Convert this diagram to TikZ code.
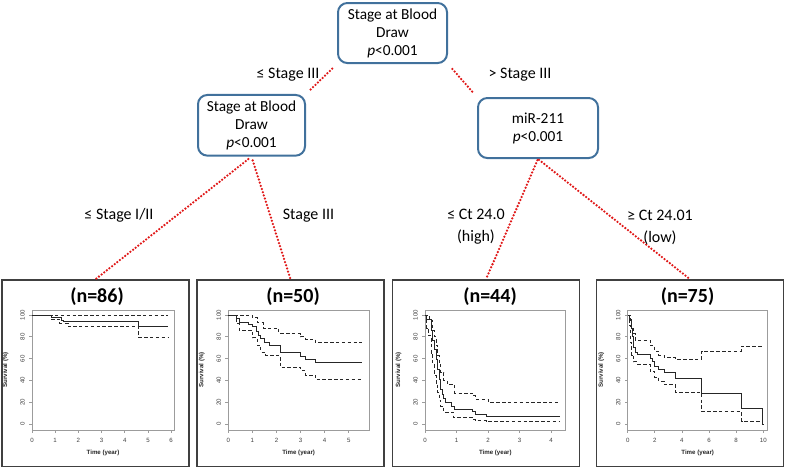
\documentclass[tikz,border=0pt]{standalone}
\usepackage{fontspec}
\setmainfont{Carlito}
\newfontfamily\rfont{Liberation Sans}
\definecolor{SplitEdge}{HTML}{41719C}
\definecolor{Cut}{HTML}{E01818}
\definecolor{Frame}{HTML}{9C9C9C}
\definecolor{Curve}{HTML}{262626}
\tikzset{
  split/.style={draw=SplitEdge,line width=1.5pt,rounded corners=7pt,align=center,
    font=\fontsize{11.5}{13.5}\selectfont,inner sep=0pt},
  cutlink/.style={draw=Cut,line width=1.9pt,line cap=round,dash pattern=on 0pt off 2.5pt},
  cutlabel/.style={align=center,font=\fontsize{12}{16.5}\selectfont},
  panel/.style={draw=black!75,line width=1.1pt,minimum width=140pt,minimum height=140pt,inner sep=0pt},
  ntitle/.style={font=\bfseries\fontsize{15}{17}\selectfont},
  ticklabel/.style={font=\rfont\fontsize{4.6}{5}\selectfont,text=black!75},
  axistitle/.style={font=\rfont\bfseries\fontsize{4.6}{5}\selectfont,text=black!85},
  estimate/.style={Curve,line width=.75pt},
  band/.style={Curve,line width=.65pt,dash pattern=on 2.6pt off 1.8pt}
}
\newcommand{\kmaxes}[5]{%
  \draw[Frame,line width=.6pt] (#1,310.7) rectangle (#5,430);
  \foreach \pct in {0,20,...,100}{
    \draw[Frame,line width=.5pt] (#1,{424-1.09*\pct}) -- ++(-3,0);
    \node[ticklabel,rotate=90] at (#1-9.5,{424-1.09*\pct}) {\pct};
  }
  \foreach \yr in {0,#4,...,#3}{
    \draw[Frame,line width=.5pt] ({#1+#2*\yr},430) -- ++(0,3);
    \node[ticklabel] at ({#1+#2*\yr},440) {\yr};
  }
  \node[axistitle] at ({(#1+#5)/2},453) {Time (year)};
  \node[axistitle,rotate=90] at (#1-26.5,370) {Survival (\%)};
}
\newcommand{\kmcurve}[4]{%
  \begin{scope}[shift={(#1,424)},xscale=#2,yscale=-1.09]
    \draw[#3] plot[const plot] coordinates {#4};
  \end{scope}
}

\begin{document}
\begin{tikzpicture}[x=0.75pt,y=-0.75pt]
\path[use as bounding box] (0,0) rectangle (786,469);

\node[split,minimum width=81.75pt,minimum height=45pt] (root) at (392.5,33) {Stage at Blood\\Draw\\\textit{p}<0.001};
\node[split,minimum width=80.25pt,minimum height=45.5pt] (early) at (251.5,125.3) {Stage at Blood\\Draw\\\textit{p}<0.001};
\node[split,minimum width=90pt,minimum height=45pt] (late) at (538,128) {miR-211\\\textit{p}<0.001};

\node[panel] (km1) at (95.5,373.3) {};
\node[panel] (km2) at (290.5,373.3) {};
\node[panel] (km3) at (486,373.3) {};
\node[panel] (km4) at (690,373.3) {};

\draw[cutlink,shorten <=5pt,shorten >=3pt] (root.south west) -- (early.north east);
\draw[cutlink,shorten <=5pt,shorten >=3pt] (root.south east) -- (late.north west);
\draw[cutlink,shorten <=3pt] (early.south) -- (km1.north);
\draw[cutlink,shorten <=3pt] (early.south) -- (km2.north);
\draw[cutlink,shorten <=1pt] (late.south) -- (km3.north);
\draw[cutlink,shorten <=1pt] (late.south) -- (km4.north);

\node[cutlabel] (lowstage) at (288,75) {≤ Stage III};
\node[cutlabel] (highstage) at (520,75) {> Stage III};
\node[cutlabel] (stageonetwo) at (119,215) {≤ Stage I/II};
\node[cutlabel] (stagethree) at (308.5,216) {Stage III};
\node[cutlabel] (cthigh) at (476,227) {≤ Ct 24.0\\(high)};
\node[cutlabel] (ctlow) at (660,227) {≥ Ct 24.01\\(low)};

\node[ntitle] (n1) at (97,297) {(n=86)};
\node[ntitle] (n2) at (293,297) {(n=50)};
\node[ntitle] (n3) at (490,297) {(n=44)};
\node[ntitle] (n4) at (687.5,297) {(n=75)};

\kmaxes{32}{23.2}{6}{1}{174}
\kmcurve{32}{23.2}{band}{(0,100)(0.85,99.5)(5.85,99.5)}
\kmcurve{32}{23.2}{band}{(0,100)(0.85,96)(1.2,92.5)(1.55,89.3)(4.6,79)(5.85,79)}
\kmcurve{32}{23.2}{estimate}{(0,100)(0.85,97.6)(1.25,95.2)(1.35,94)(4.6,89)(5.85,89)}

\kmaxes{228.3}{24.1}{5}{1}{369}
\kmcurve{228.3}{24.1}{band}{(0,100)(1.0,98)(1.2,93)(1.45,88)(2.1,83)(3.0,80)(3.2,78)(3.6,75)(5.55,75)}
\kmcurve{228.3}{24.1}{band}{(0,100)(0.35,92)(0.45,86)(1.0,79)(1.2,72)(1.35,66)(1.55,63)(2.15,52)(3.0,49)(3.2,45)(3.6,41)(5.55,41)}
\kmcurve{228.3}{24.1}{estimate}{(0,100)(0.35,97)(0.45,93)(0.85,91)(1.0,89)(1.15,85)(1.25,81)(1.35,78)(1.5,75)(1.7,72)(2.15,66)(3.0,62)(3.2,59)(3.6,56)(5.55,56)}

\kmaxes{425}{31.5}{4}{1}{565.7}
\kmcurve{425}{31.5}{band}{(0,100)(0.15,95)(0.25,86)(0.3,80)(0.35,72)(0.4,63)(0.45,55)(0.5,47)(0.6,40)(0.7,36)(0.95,28.5)(1.5,26)(1.6,23)(2.0,20)(4.3,20)}
\kmcurve{425}{31.5}{band}{(0,100)(0.05,88)(0.1,81)(0.2,65)(0.25,55)(0.3,45)(0.35,37)(0.4,29)(0.45,22)(0.5,16)(0.6,11)(0.9,6)(1.5,4.5)(1.6,3)(1.95,2)(4.3,2)}
\kmcurve{425}{31.5}{estimate}{(0,100)(0.05,95.5)(0.2,86)(0.25,77)(0.3,68)(0.35,59)(0.4,50)(0.45,41)(0.5,32)(0.55,27)(0.6,23)(0.65,20)(0.85,16)(0.95,13.6)(1.5,11.4)(1.6,9)(1.95,6.8)(4.3,6.8)}

\kmaxes{627.7}{13.56}{10}{2}{767.7}
\kmcurve{627.7}{13.56}{band}{(0,100)(0.2,95)(0.3,88)(0.4,83)(0.55,77)(1.65,72)(2.0,67)(2.3,63)(2.7,61)(3.55,59.5)(5.45,67)(8.4,71.5)(10,71.5)}
\kmcurve{627.7}{13.56}{band}{(0,100)(0.1,90)(0.2,75)(0.3,63)(0.45,57)(0.7,55)(1.65,48)(2.0,43)(2.3,39)(2.7,36)(3.55,29)(5.45,11.5)(8.4,2.5)(10,2.5)}
\kmcurve{627.7}{13.56}{estimate}{(0,100)(0.15,96)(0.25,88)(0.35,80)(0.45,70)(0.55,66)(0.7,64)(1.65,60)(1.8,57)(2.0,53)(2.3,50)(2.7,47)(3.55,41.5)(5.45,27.6)(8.4,13.8)(9.95,0)(10,0)}
\end{tikzpicture}
\end{document}
